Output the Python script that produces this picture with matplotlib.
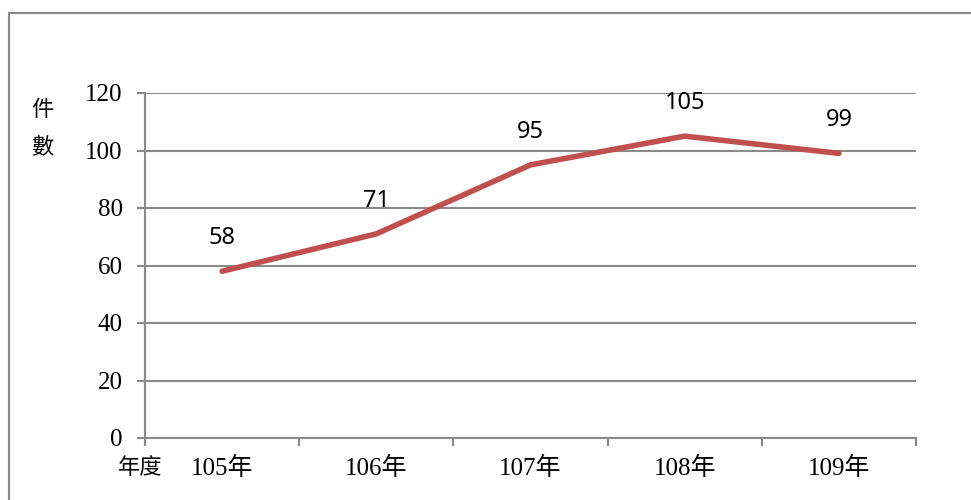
import matplotlib
matplotlib.use("Agg")
import matplotlib.pyplot as plt
from matplotlib.patches import Rectangle
from matplotlib.ticker import FixedLocator

# Daten
jahre = ["105年", "106年", "107年", "108年", "109年"]
anzahl = [58, 71, 95, 105, 99]
y_ticks = [0, 20, 40, 60, 80, 100, 120]

cjk = ["Noto Sans CJK TC", "DejaVu Sans"]
serif = ["Liberation Serif", "Noto Sans CJK TC"]

fig = plt.figure(figsize=(9.71, 5.0), dpi=100)
ax = fig.add_axes([145 / 971, 1 - 438 / 500, (916 - 145) / 971, (438 - 93) / 500])

# Rahmen um das Diagramm
fig.patches.append(Rectangle((8.5 / 971, -0.1), 1.2, 1 - 12.5 / 500 + 0.1,
                             transform=fig.transFigure, fill=False,
                             edgecolor="#8a8a8a", linewidth=1.5))

x = [i + 0.5 for i in range(len(jahre))]
ax.plot(x, anzahl, color="#C0504D", linewidth=4, solid_capstyle="round", zorder=3)

for xi, wert in zip(x, anzahl):
    ax.annotate(str(wert), (xi, wert), xytext=(0, 24), textcoords="offset points",
                ha="center", va="center", fontsize=17, family="Noto Sans", color="black")

ax.set_xlim(0, len(jahre))
ax.set_ylim(0, 120)
ax.yaxis.grid(True, color="#8a8a8a", linewidth=1.5)
ax.set_axisbelow(True)

ax.xaxis.set_major_locator(FixedLocator(range(len(jahre) + 1)))
ax.xaxis.set_major_formatter(plt.NullFormatter())
ax.tick_params(axis="x", which="major", length=6, width=1.5, color="#8a8a8a", direction="out")

ax.yaxis.set_major_locator(FixedLocator(y_ticks))
ax.yaxis.set_major_formatter(plt.NullFormatter())
ax.tick_params(axis="y", length=6, width=1.5, color="#8a8a8a")

# Beschriftungen als eigene Texte in Serifenschrift
for t in y_ticks:
    ax.annotate(str(t), (0, t), xycoords=ax.get_yaxis_transform(), xytext=(-16, -1.5),
                textcoords="offset points", ha="right", va="center",
                fontsize=18, family=serif, annotation_clip=False)
for xi, j in zip(x, jahre):
    ax.annotate(j, (xi, 0), xycoords=ax.get_xaxis_transform(), xytext=(0, -22),
                textcoords="offset points", ha="center", va="center",
                fontsize=18, family=serif, annotation_clip=False)

for s in ["top", "right"]:
    ax.spines[s].set_visible(False)
for s in ["left", "bottom"]:
    ax.spines[s].set_color("#8a8a8a")
    ax.spines[s].set_linewidth(1.5)

fig.text(42 / 971, 1 - 110 / 500, "件", family=cjk, fontsize=16, ha="center", va="center")
fig.text(42 / 971, 1 - 147 / 500, "數", family=cjk, fontsize=16, ha="center", va="center")
fig.text(140 / 971, 1 - 468 / 500, "年度", family=cjk, fontsize=16, ha="center", va="center")

fig.savefig("out.png", dpi=100)
